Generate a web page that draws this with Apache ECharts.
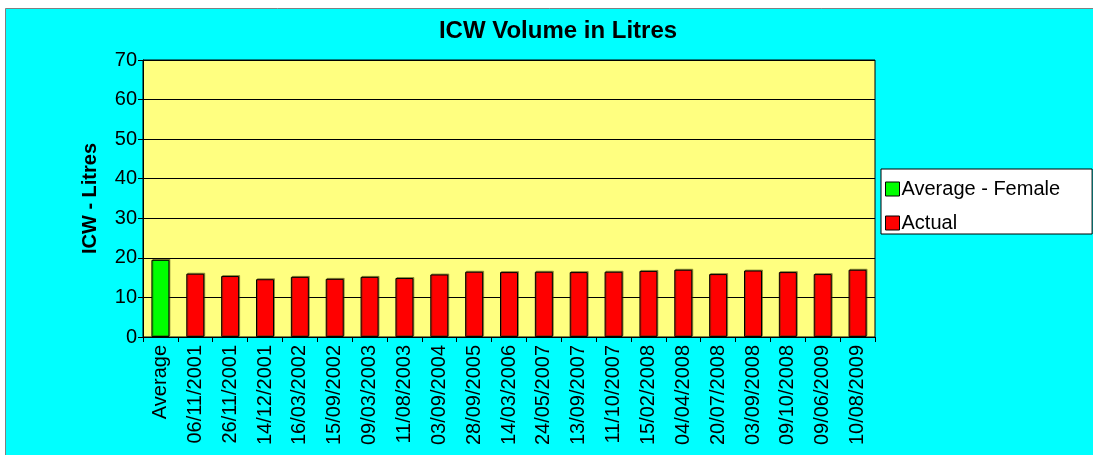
<!DOCTYPE html>
<html>
<head>
<meta charset="utf-8">
<script src="https://cdn.jsdelivr.net/npm/echarts@6/dist/echarts.min.js"></script>
<style>
  html, body { margin: 0; padding: 0; background: #fff; }
  #main-chart { width: 1093px; height: 455px; }
</style>
</head>
<body>
<div id="main-chart"></div>
<script>
var myChart = echarts.init(document.getElementById('main-chart'));

// categories
var dates = ['Average', '06/11/2001', '26/11/2001', '14/12/2001', '16/03/2002', '15/09/2002',
    '09/03/2003', '11/08/2003', '03/09/2004', '28/09/2005', '14/03/2006', '24/05/2007',
    '13/09/2007', '11/10/2007', '15/02/2008', '04/04/2008', '20/07/2008', '03/09/2008',
    '09/10/2008', '09/06/2009', '10/08/2009'];

// average bar (first column only)
var averageFemale = [19.5, null, null, null, null, null, null, null, null, null, null,
    null, null, null, null, null, null, null, null, null, null];

// measured values
var actual = [null, 16.0, 15.4, 14.6, 15.2, 14.7, 15.2, 14.9, 15.8, 16.5, 16.4,
    16.5, 16.4, 16.5, 16.7, 17.0, 15.9, 16.8, 16.4, 15.9, 17.0];

var yTicks = [0, 10, 20, 30, 40, 50, 60, 70];

var font = 'Liberation Sans, Arial, sans-serif';

var option = {
    backgroundColor: '#fff',
    animation: false,
    graphic: [{
        type: 'rect',
        silent: true,
        z: -10,
        shape: {x: 5.5, y: 8.5, width: 1100, height: 460},
        style: {fill: '#00FFFF', stroke: '#808080', lineWidth: 1}
    }],
    title: {
        text: 'ICW Volume in Litres',
        left: 553,
        textAlign: 'center',
        top: 14,
        textStyle: {fontFamily: font, fontSize: 24, fontWeight: 'bold', color: '#000'}
    },
    legend: {
        orient: 'vertical',
        left: 881,
        top: 169,
        padding: [10, 32, 1, 4],
        itemGap: 14,
        itemWidth: 14,
        itemHeight: 14,
        icon: 'rect',
        itemStyle: {borderColor: '#000', borderWidth: 1},
        backgroundColor: '#fff',
        borderColor: '#000',
        borderWidth: 1,
        textStyle: {fontFamily: font, fontSize: 20, color: '#000', padding: [0, 0, 0, -3]},
        data: ['Average - Female', 'Actual']
    },
    grid: {
        left: 143,
        right: 218,
        top: 60,
        bottom: 118,
        show: true,
        backgroundColor: '#FFFF80',
        borderColor: '#000',
        borderWidth: 1
    },
    xAxis: {
        type: 'category',
        data: dates,
        axisLine: {lineStyle: {color: '#000', width: 1}},
        axisTick: {show: true, inside: false, length: 5, lineStyle: {color: '#000'}},
        axisLabel: {
            rotate: 90,
            interval: 0,
            margin: 8,
            fontFamily: font,
            fontSize: 20,
            color: '#000'
        }
    },
    yAxis: {
        type: 'value',
        min: yTicks[0],
        max: yTicks[yTicks.length - 1],
        interval: 10,
        name: 'ICW - Litres',
        nameLocation: 'middle',
        nameGap: 43,
        nameTextStyle: {fontFamily: font, fontSize: 20, fontWeight: 'bold', color: '#000'},
        axisLine: {show: true, lineStyle: {color: '#000', width: 1}},
        axisTick: {show: true, length: 5, lineStyle: {color: '#000'}},
        axisLabel: {fontFamily: font, fontSize: 20, color: '#000', margin: 6},
        splitLine: {lineStyle: {color: '#000', width: 1}}
    },
    series: [
        {
            name: 'Average - Female',
            type: 'bar',
            data: averageFemale,
            barWidth: 18,
            barGap: '-100%',
            itemStyle: {
                color: '#00FF00', borderColor: '#000', borderWidth: 1,
                shadowColor: 'rgba(60,60,0,0.45)', shadowOffsetX: 1, shadowOffsetY: -1
            }
        },
        {
            name: 'Actual',
            type: 'bar',
            data: actual,
            barWidth: 18,
            itemStyle: {
                color: '#FF0000', borderColor: '#000', borderWidth: 1,
                shadowColor: 'rgba(60,60,0,0.45)', shadowOffsetX: 1, shadowOffsetY: -1
            }
        }
    ]
};
myChart.setOption(option);
</script>
</body>
</html>
